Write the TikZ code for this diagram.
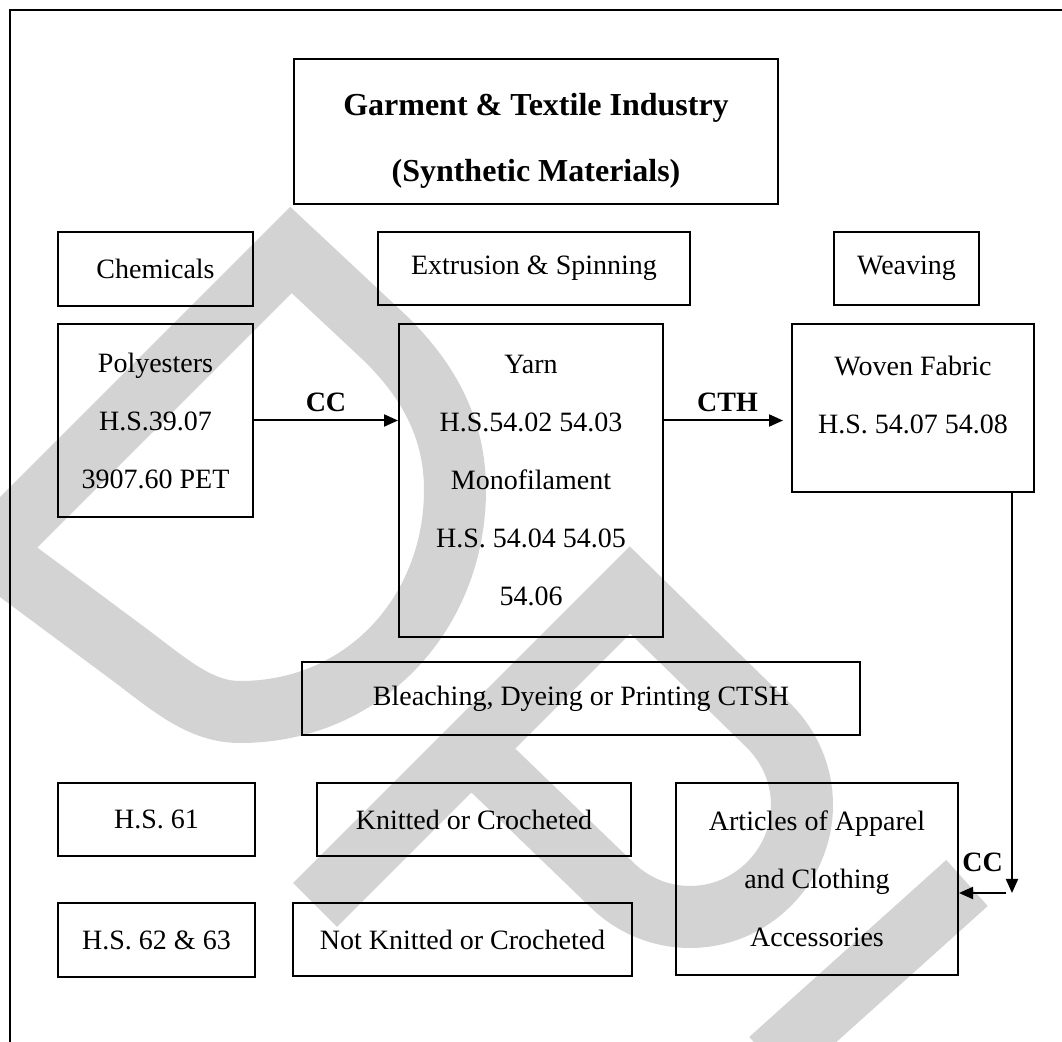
\documentclass[tikz,border=0pt]{standalone}
\usepackage{fontspec}
\setmainfont{Liberation Serif}
\usetikzlibrary{arrows.meta}

\definecolor{wmgray}{RGB}{211,211,211}

\tikzset{
  stage/.style={draw, line width=1pt, inner sep=0pt, align=center,
    font=\fontsize{14}{29}\selectfont},
  words/.style={align=center, inner sep=0pt, font=\fontsize{14}{29}\selectfont},
  flow/.style={line width=1pt, -{Triangle[length=7pt,width=6pt]}},
  lbl/.style={font=\fontsize{14}{16}\selectfont\bfseries, inner sep=1.5pt},
  wm/.style={wmgray, line width=31pt}
}

\begin{document}
\begin{tikzpicture}[x=0.5pt,y=-0.5pt]
\useasboundingbox (0,0) rectangle (1062,1042);

% watermark behind everything
\begin{scope}
\clip (0,0) rectangle (1062,1042);
\draw[wm] (-10,551) -- (291,250) -- (385,338)
    .. controls (430,382) and (455,430) .. (455,490)
    .. controls (455,612) and (365,712) .. (240,712)
    .. controls (200,712) and (170,685) .. (130,655) -- cycle;
\draw[wm] (315,905) -- (630,590) -- (769,726)
    .. controls (813,770) and (813,840) .. (769,884)
    .. controls (725,928) and (655,928) .. (611,884) -- (471,749);
\draw[wm] (967,883) -- (770,1060);
\end{scope}

% frame
\draw[line width=1pt] (1062,10) -- (10,10) -- (10,1042);

% title
\node[stage, minimum width=242pt, minimum height=72.5pt] (title) at (536,131.5) {};
\node[words, font=\fontsize{16}{33}\selectfont\bfseries] (titletext) at (536,141)
    {Garment \& Textile Industry\\(Synthetic Materials)};

% stage headings
\node[stage, minimum width=97.5pt, minimum height=37pt] (chem) at (155.5,269) {Chemicals};
\node[stage, minimum width=156pt, minimum height=36.5pt] (extr) at (534,268.5) {Extrusion \& Spinning};
\node[stage, minimum width=72.5pt, minimum height=36.5pt] (weav) at (906.5,268.5) {Weaving};

% products
\node[stage, minimum width=97.5pt, minimum height=96.5pt] (poly) at (155.5,420.5)
    {Polyesters\\H.S.39.07\\3907.60 PET};
\node[stage, minimum width=132pt, minimum height=156.5pt] (yarn) at (531,480.5)
    {Yarn\\H.S.54.02 54.03\\Monofilament\\H.S. 54.04 54.05\\54.06};
\node[stage, minimum width=121pt, minimum height=84pt] (woven) at (913,408) {};
\node[words] (woventext) at (913,395) {Woven Fabric\\H.S. 54.07 54.08};

\node[stage, minimum width=279pt, minimum height=36.5pt] (bleach) at (581,698.5)
    {Bleaching, Dyeing or Printing CTSH};

\node[stage, minimum width=98.5pt, minimum height=36.5pt] (hs61) at (156.5,819.5) {H.S. 61};
\node[stage, minimum width=157pt, minimum height=36.5pt] (knit) at (474,819.5) {Knitted or Crocheted};
\node[stage, minimum width=98.5pt, minimum height=37pt] (hs62) at (156.5,940) {H.S. 62 \& 63};
\node[stage, minimum width=169.5pt, minimum height=36.5pt] (notknit) at (462.5,939.5) {Not Knitted or Crocheted};
\node[stage, minimum width=141pt, minimum height=96pt] (articles) at (817,879)
    {Articles of Apparel\\and Clothing\\Accessories};

% connectors
\draw[flow] (poly.east) -- (poly.east -| yarn.west)
    node[midway, above=2.5pt, lbl] {CC};
\draw[flow, shorten >=4pt] (poly.east -| yarn.east) -- (poly.east -| woven.west)
    node[midway, above=2.5pt, lbl] {CTH};

\coordinate (turn) at (1012,893);
\coordinate (back) at (1006,893);
\draw[flow] (woven.south -| turn) -- (turn);
\draw[flow] (back) -- (back -| articles.east)
    node[midway, above=8.5pt, lbl] {CC};

\end{tikzpicture}
\end{document}
